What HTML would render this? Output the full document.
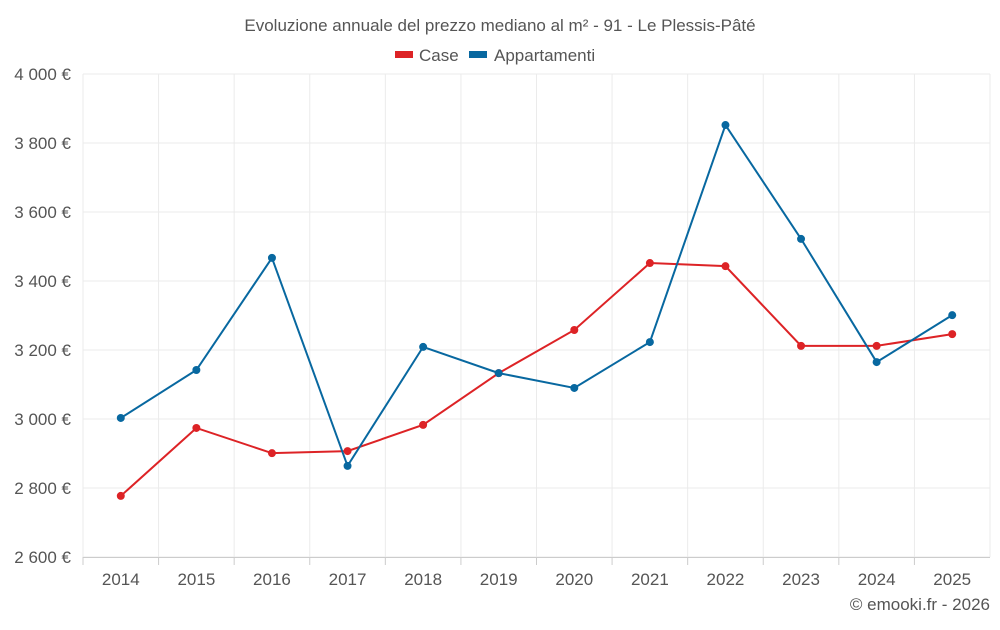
<!DOCTYPE html>
<html><head><meta charset="utf-8"><style>
body{margin:0;background:#fff;font-family:"Liberation Sans",sans-serif;}
svg text{font-family:"Liberation Sans",sans-serif;fill:#555;}
</style></head><body>
<svg id="chart" width="1000" height="625" xmlns="http://www.w3.org/2000/svg">
<text x="500" y="31" text-anchor="middle" font-size="17">Evoluzione annuale del prezzo mediano al m² - 91 - Le Plessis-Pâté</text>
<g>
<g><rect x="395" y="51" width="18" height="7" fill="#dd2326"/><text x="419" y="61" font-size="17">Case</text></g>
<g><rect x="469" y="51" width="18" height="7" fill="#0868a0"/><text x="494" y="61" font-size="17">Appartamenti</text></g>
</g>
<g id="grid"></g><g id="axes"></g><g id="series"></g>
<text x="990" y="610" text-anchor="end" font-size="17">© emooki.fr - 2026</text>
</svg>
<script>
const categories=["2014","2015","2016","2017","2018","2019","2020","2021","2022","2023","2024","2025"];
const caseValues=[2777,2974,2901,2907,2983,3133,3258,3452,3443,3212,3212,3246];
const appValues=[3003,3142,3467,2864,3209,3133,3090,3223,3852,3522,3165,3301];
const yTicks=[2600,2800,3000,3200,3400,3600,3800,4000];
const yTickLabels=["2 600 €","2 800 €","3 000 €","3 200 €","3 400 €","3 600 €","3 800 €","4 000 €"];
const L=83,R=990,T=74,B=557,yMin=2600,yMax=4000;
const bw=(R-L)/categories.length;
const x=i=>L+bw*(i+0.5);
const y=v=>B-(v-yMin)/(yMax-yMin)*(B-T);
const NS="http://www.w3.org/2000/svg";
function mk(parent,tag,attrs){const e=document.createElementNS(NS,tag);for(const k in attrs)e.setAttribute(k,attrs[k]);parent.appendChild(e);return e;}
const grid=document.getElementById('grid'),axes=document.getElementById('axes'),series=document.getElementById('series');
yTicks.forEach((t,i)=>{
 const l=mk(grid,'line',{x1:L,x2:R,y1:y(t),y2:y(t),stroke:'#ebebeb'});
 
 
 const tx=mk(axes,'text',{x:L-12,y:y(t)+6,'text-anchor':'end','font-size':17});
 tx.textContent=yTickLabels[i];
 
 
});
for(let i=0;i<=categories.length;i++){
 const l=mk(grid,'line',{x1:L+bw*i,x2:L+bw*i,y1:T,y2:B,stroke:'#ebebeb'});
 
 
}
const ax=mk(axes,'line',{x1:L,x2:R,y1:B+0.5,y2:B+0.5,stroke:'#ccc'});


categories.forEach((c,i)=>{
 const tk=mk(axes,'line',{x1:L+bw*i,x2:L+bw*i,y1:B,y2:B+8,stroke:'#ccc'});
 
 
 const tx=mk(axes,'text',{x:x(i),y:B+28,'text-anchor':'middle','font-size':17});
 tx.textContent=c;
 
 
});
function draw(vals,color,name){
 const p=mk(series,'polyline',{points:vals.map((v,i)=>x(i)+','+y(v)).join(' '),fill:'none',stroke:color,'stroke-width':2});
 
 
 vals.forEach((v,i)=>{
  const c=mk(series,'circle',{cx:x(i),cy:y(v),r:4,fill:color});
  
  
 });
}
draw(caseValues,'#dd2326','case');
draw(appValues,'#0868a0','appartamenti');
</script>
</body></html>
